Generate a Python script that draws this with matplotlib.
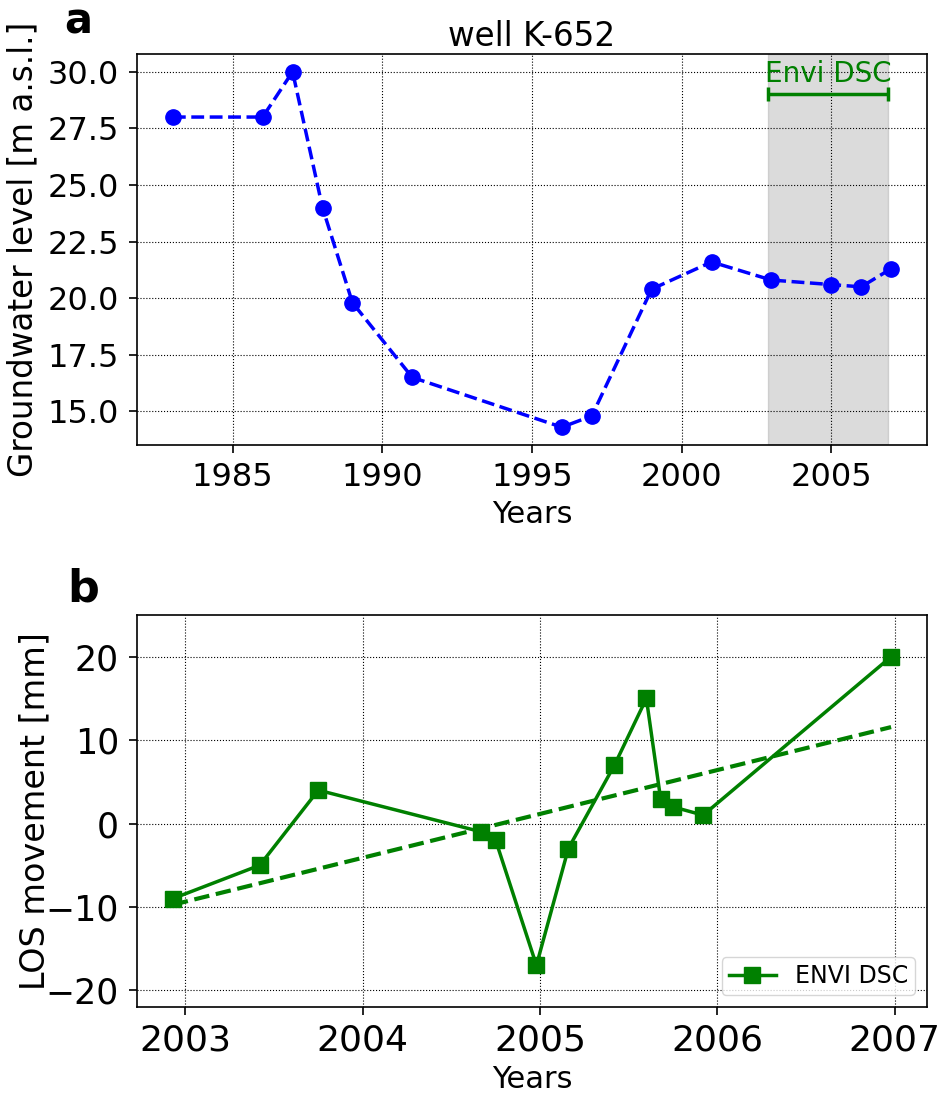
import numpy as np
import matplotlib
matplotlib.use('Agg')
import matplotlib.pyplot as plt

# groundwater level in well K-652
well_years = [1983, 1986, 1987, 1988, 1989, 1991, 1996, 1997, 1999, 2001, 2003, 2005, 2006, 2007]
well_level = [28.0, 28.0, 30.0, 24.0, 19.8, 16.5, 14.3, 14.8, 20.4, 21.6, 20.8, 20.6, 20.5, 21.3]

# Envisat descending LOS time series
los_dates = [2002.93, 2003.42, 2003.75, 2004.67, 2004.75, 2004.98, 2005.16,
             2005.42, 2005.60, 2005.68, 2005.75, 2005.92, 2006.98]
los_mm = [-9, -5, 4, -1, -2, -17, -3, 7, 15, 3, 2, 1, 20]

envi_span = (2002.9, 2006.9)
envi_label = 'Envi DSC'

fig = plt.figure(figsize=(9.44, 11.02), dpi=100)
ax1 = fig.add_axes([0.1451, 0.5962, 0.8369, 0.3548])
ax2 = fig.add_axes([0.1451, 0.0862, 0.8369, 0.3557])

# --- panel a ---
ax1.plot(well_years, well_level, 'o--', color='blue', lw=2.5, markersize=11)
ax1.axvspan(envi_span[0], envi_span[1], color='gray', alpha=0.28)
mid = (envi_span[0] + envi_span[1]) / 2
half = (envi_span[1] - envi_span[0]) / 2
ax1.errorbar([mid], [29.0], xerr=[half], color='green', lw=2.5, capsize=5, capthick=2.5, fmt='none')
ax1.text(mid, 29.55, envi_label, color='green', fontsize=20, ha='center', va='baseline')
ax1.set_title('well K-652', fontsize=23.5)
ax1.set_xlabel('Years', fontsize=22, labelpad=5)
ax1.set_ylabel('Groundwater level [m a.s.l.]', fontsize=23.5, labelpad=6)
ax1.set_xticks([1985, 1990, 1995, 2000, 2005])
ax1.set_yticks([15.0, 17.5, 20.0, 22.5, 25.0, 27.5, 30.0])
ax1.tick_params(labelsize=23, width=1.2, length=6)
ax1.tick_params(axis='y', pad=7)
ax1.tick_params(axis='x', pad=6)
ax1.grid(True, linestyle=':', color='black', lw=0.8)

# --- panel b ---
fit = np.polyfit(los_dates, los_mm, 1)
trend_x = np.array([los_dates[0], los_dates[-1]])
ax2.plot(los_dates, los_mm, 's-', color='green', lw=2.5, markersize=12, label='ENVI DSC')
ax2.plot(trend_x, np.polyval(fit, trend_x), '--', color='green', lw=3)
ax2.set_ylim(-22, 25)
ax2.set_xticks([2003, 2004, 2005, 2006, 2007])
ax2.set_yticks([-20, -10, 0, 10, 20])
ax2.set_xlabel('Years', fontsize=22, labelpad=5)
ax2.set_ylabel('LOS movement [mm]', fontsize=24, labelpad=-4)
ax2.tick_params(labelsize=26, width=1.2, length=6)
ax2.tick_params(axis='y', labelsize=25, pad=7)
ax2.tick_params(axis='x', pad=6)
ax2.grid(True, linestyle=':', color='black', lw=0.8)
ax2.legend(loc='lower right', fontsize=17, borderpad=0.3)

for ax in (ax1, ax2):
    ax.ticklabel_format(useOffset=False, axis='x')
    for s in ax.spines.values():
        s.set_linewidth(1.2)

fig.text(64 / 944, 1 - 33 / 1102, 'a', fontsize=30, fontweight='bold', va='baseline')
fig.text(67 / 944, 1 - 601 / 1102, 'b', fontsize=32, fontweight='bold', va='baseline')

fig.savefig('out.png', dpi=100)
